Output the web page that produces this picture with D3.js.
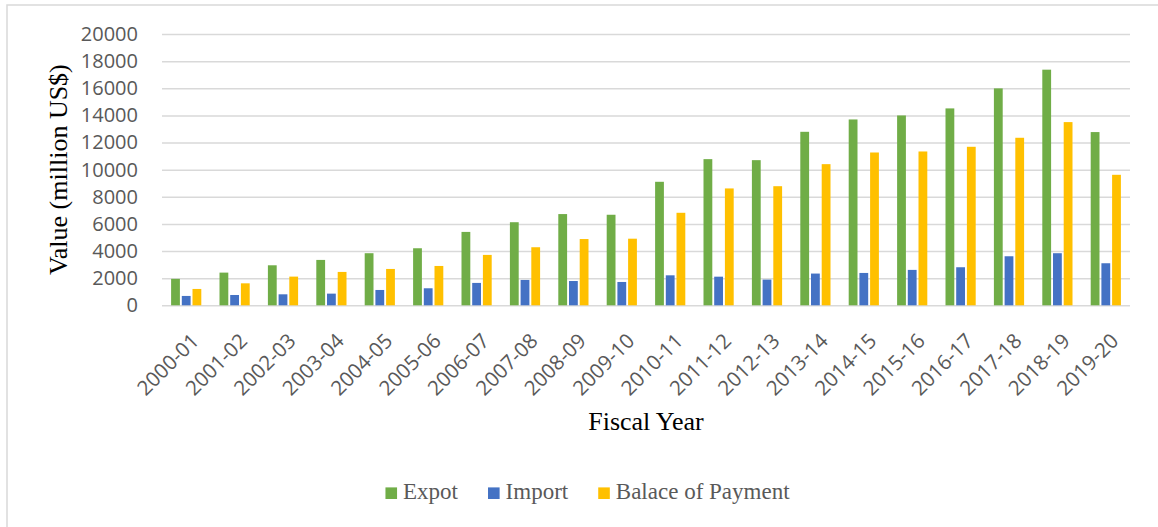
<!DOCTYPE html>
<html>
<head>
<meta charset="utf-8">
<script src="https://cdn.jsdelivr.net/npm/d3@7"></script>
<style>
  html, body { margin: 0; padding: 0; background: #fff; }
  svg { display: block; }
</style>
</head>
<body>
<svg id="chart" width="1158" height="527"></svg>
<script>
// Fiscal years on the category axis
const years = ["2000-01","2001-02","2002-03","2003-04","2004-05","2005-06","2006-07",
  "2007-08","2008-09","2009-10","2010-11","2011-12","2012-13","2013-14","2014-15",
  "2015-16","2016-17","2017-18","2018-19","2019-20"];

// Series values, million US$
const exportValues = [1950, 2410, 2950, 3345, 3840, 4205, 5410, 6125, 6725, 6675,
  9105, 10775, 10700, 12790, 13700, 13995, 14515, 15990, 17370, 12770];
const importValues = [690, 760, 810, 860, 1130, 1255, 1650, 1870, 1790, 1720,
  2210, 2110, 1895, 2340, 2385, 2610, 2805, 3615, 3840, 3100];
const balanceValues = [1205, 1620, 2115, 2460, 2680, 2900, 3715, 4280, 4885, 4910,
  6820, 8615, 8780, 10405, 11265, 11340, 11685, 12350, 13505, 9620];

const seriesNames = ["Expot", "Import", "Balace of Payment"];
const seriesColors = ["#70AD47", "#4472C4", "#FFC000"];
const yTicks = [0, 2000, 4000, 6000, 8000, 10000, 12000, 14000, 16000, 18000, 20000];

const series = [exportValues, importValues, balanceValues];

const svg = d3.select("#chart");

// Chart frame
svg.append("rect")
  .attr("x", 7).attr("y", 5)
  .attr("width", 1300).attr("height", 700)
  .attr("fill", "none")
  .attr("stroke", "#D9D9D9")
  .attr("stroke-width", 1.5);

const plot = { left: 162, right: 1130, top: 34, bottom: 305.3 };

const x = d3.scaleBand().domain(years).range([plot.left, plot.right]).padding(0);
const groupWidth = 30.2;
const xInner = d3.scaleBand().domain(seriesNames).range([0, groupWidth])
  .paddingInner(0.1776).paddingOuter(0);
const groupOffset = (x.bandwidth() - groupWidth) / 2;

const y = d3.scaleLinear().domain([0, 20000]).range([plot.bottom, plot.top]);

// Horizontal gridlines (the zero line doubles as the category axis)
const yAxis = d3.axisLeft(y)
  .tickValues(yTicks)
  .tickSize(-(plot.right - plot.left))
  .tickPadding(24)
  .tickFormat(d3.format("d"));

const gy = svg.append("g")
  .attr("transform", `translate(${plot.left},0)`)
  .call(yAxis);
gy.select(".domain").remove();
gy.selectAll(".tick line")
  .attr("stroke", "#D9D9D9")
  .attr("stroke-width", 1.5);
gy.selectAll(".tick text")
  .attr("fill", "#595959")
  .style("font-family", "'Open Sans', sans-serif")
  .style("font-size", "20px");

// Bars
series.forEach((vals, si) => {
  svg.append("g")
    .selectAll("rect")
    .data(vals)
    .join("rect")
    .attr("x", (d, i) => x(years[i]) + groupOffset + xInner(seriesNames[si]))
    .attr("y", d => y(d))
    .attr("width", xInner.bandwidth())
    .attr("height", d => y(0) - y(d))
    .attr("fill", seriesColors[si]);
});

// Category labels, rotated
const xAxis = d3.axisBottom(x).tickSize(0).tickPadding(0);
const gx = svg.append("g")
  .attr("transform", `translate(0,${plot.bottom})`)
  .call(xAxis);
gx.select(".domain").remove();
gx.selectAll(".tick text")
  .attr("fill", "#595959")
  .style("font-family", "'Open Sans', sans-serif")
  .style("font-size", "20.5px")
  .attr("text-anchor", "end")
  .attr("dy", null)
  .attr("y", null)
  .attr("transform", "translate(14,37) rotate(-45)");

// Axis titles
svg.append("text")
  .attr("transform", `translate(67,${(plot.top + plot.bottom) / 2}) rotate(-90)`)
  .attr("text-anchor", "middle")
  .attr("fill", "#000")
  .style("font-family", "'Liberation Serif', 'Times New Roman', serif")
  .style("font-size", "26px")
  .text("Value (million US$)");

svg.append("text")
  .attr("x", (plot.left + plot.right) / 2)
  .attr("y", 430)
  .attr("text-anchor", "middle")
  .attr("fill", "#000")
  .style("font-family", "'Liberation Serif', 'Times New Roman', serif")
  .style("font-size", "26px")
  .text("Fiscal Year");

// Legend
const legend = svg.append("g");
const sw = 11.6, swGap = 6, itemGap = 30;
const items = legend.selectAll("g")
  .data(seriesNames)
  .join("g");
items.append("rect")
  .attr("width", sw).attr("height", sw)
  .attr("y", -sw)
  .attr("fill", (d, i) => seriesColors[i]);
items.append("text")
  .attr("x", sw + swGap)
  .attr("fill", "#595959")
  .style("font-family", "'Liberation Serif', 'Times New Roman', serif")
  .style("font-size", "23px")
  .text(d => d);
const widths = [];
items.each(function () {
  const w = sw + swGap + d3.select(this).select("text").node().getComputedTextLength();
  widths.push(w);
});
const total = d3.sum(widths) + itemGap * (widths.length - 1);
const legendCenter = 587.5;
let lx = legendCenter - total / 2;
items.attr("transform", (d, i) => {
  const t = `translate(${lx},499)`;
  lx += widths[i] + itemGap;
  return t;
});
</script>
</body>
</html>
